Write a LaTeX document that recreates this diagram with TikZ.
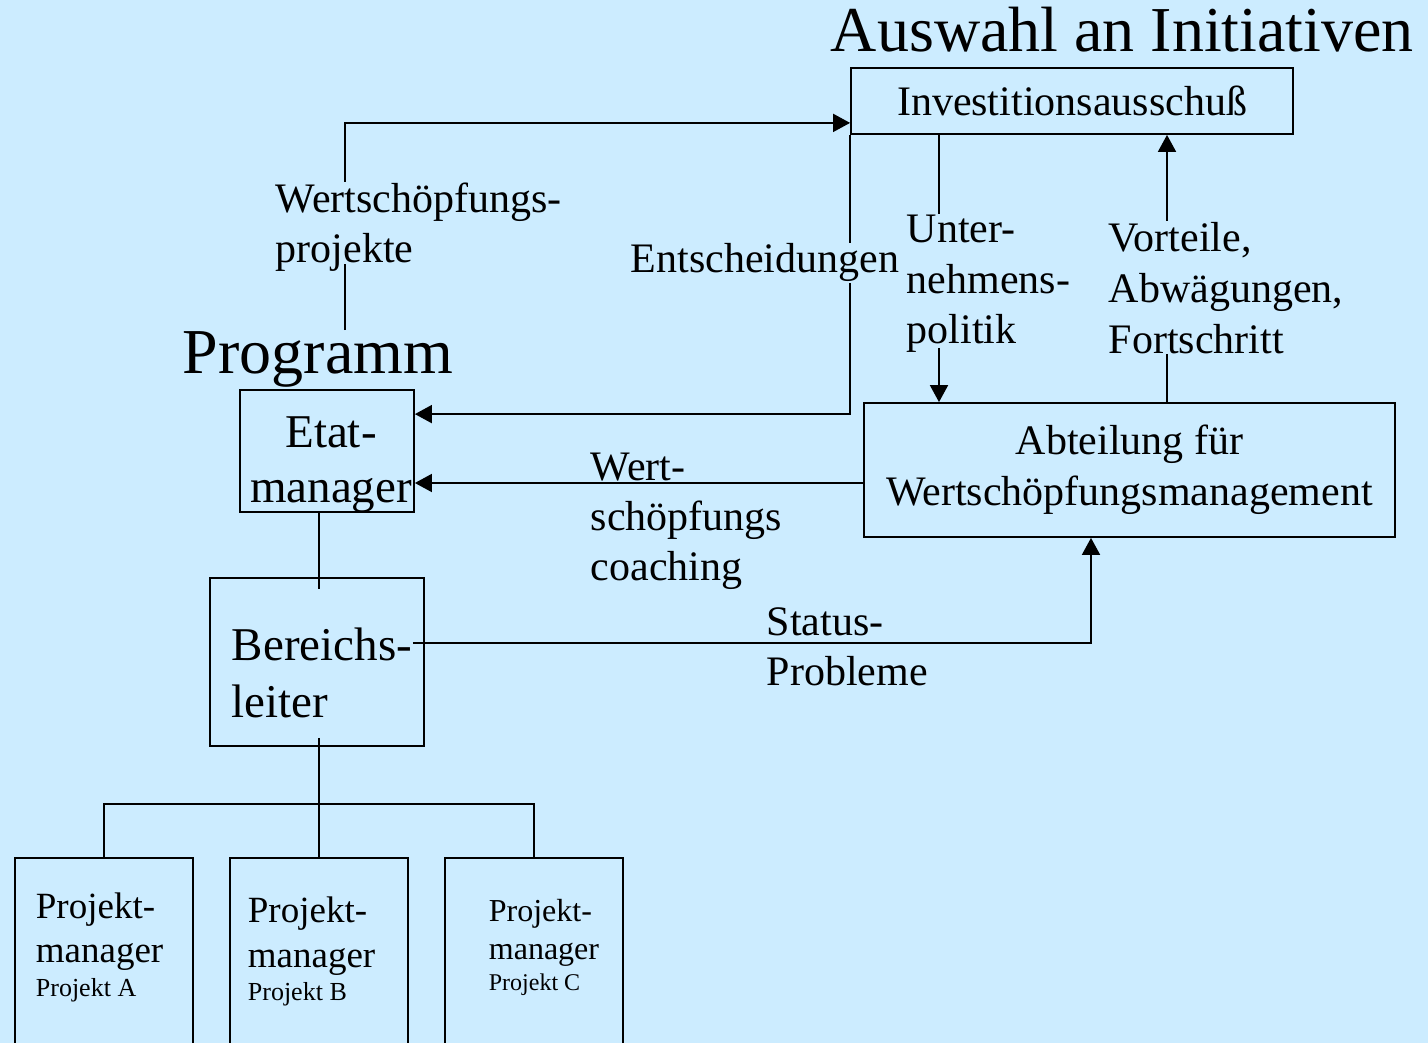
\documentclass[tikz,border=0pt]{standalone}
\usepackage{fontspec}
\setmainfont{Liberation Serif}
\usetikzlibrary{arrows.meta,positioning}
\definecolor{slidebg}{HTML}{CCECFF}
\newcommand{\fs}[2]{\fontsize{#1}{#2}\selectfont}

\begin{document}
\begin{tikzpicture}[x=1pt,y=-1pt,->,>={Triangle[length=17pt,width=18pt]},
                    line width=1.8pt,node distance=215pt]
\tikzset{box/.style={draw=black,inner sep=0pt,align=center},
         lbl/.style={inner sep=0pt,align=left,anchor=base west},
         big/.style={font=\fs{64}{77}},
         mid/.style={font=\fs{42}{51}}}

\fill[slidebg,-] (0,0) rectangle (1428,1043);
\useasboundingbox (0,0) rectangle (1428,1043);

        % titles
        \node[lbl,big]  (title) at (830,52)   {Auswahl an Initiativen};
        \node[lbl,big]  (prog)  at (182,373)  {Programm};

        % boxes
        \node[box,mid,minimum width=442pt,minimum height=66pt]   (inv)  at (1072,101)  {Investitionsausschuß};
        \node[box,minimum width=174pt,minimum height=122pt]  (etat) at (327,451)   {};
        \node[box,mid,minimum width=531pt,minimum height=134pt]  (abt)  at (1129.5,470) {Abteilung für\\Wertschöpfungsmanagement};
        \node[box,minimum width=214pt,minimum height=168pt] (bl) at (317,662) {};

        \node[lbl,align=center,anchor=base,font=\fs{47}{55}] (etatt) at (331,502) {Etat-\\manager};
        \node[lbl,font=\fs{47}{57}]  (blt) at (231,717) {Bereichs-\\leiter};

        \node[box,minimum width=178pt,minimum height=200pt]  (pa)  at (104,958)  {};
        \node[box,minimum width=178pt,minimum height=200pt]  (pb)  [right of=pa] {};
        \node[box,minimum width=178pt,minimum height=200pt]  (pc)  [right of=pb] {};

        \node[lbl,font=\fs{37}{44}]  (ta)  at (35,962)   {Projekt-\\manager};
        \node[lbl,font=\fs{26}{31}]  (tap) at (35,996)   {Projekt A};
        \node[lbl,font=\fs{37}{45}]  (tb)  at (247,967)  {Projekt-\\manager};
        \node[lbl,font=\fs{26}{31}]  (tbp) at (247,1000) {Projekt B};
        \node[lbl,font=\fs{32}{38}]  (tc)  at (488,959)  {Projekt-\\manager};
        \node[lbl,font=\fs{24}{29}]  (tcp) at (488,990)  {Projekt C};

        % connector labels
        \node[lbl,mid]  (wsp)  at (275,263)  {Wertschöpfungs-\\projekte};
        \node[lbl,mid]  (ent)  at (630,273)  {Entscheidungen};
        \node[lbl,mid]  (unt)  at (906,344)  {Unter-\\nehmens-\\politik};
        \node[lbl,mid]  (vort) at (1108,353) {Vorteile,\\Abwägungen,\\Fortschritt};
        \node[lbl,font=\fs{42}{50}]  (wc)   at (590,580)  {Wert-\\schöpfungs\\coaching};
        \node[lbl,font=\fs{42}{50}]  (stat) at (766,685)  {Status-\\Probleme};

        \coordinate (wx) at (345,0);
        \coordinate (ux) at (939,0);
        \coordinate (vx) at (1167,0);
        \coordinate (sx) at (1091,0);
        \coordinate (bx) at (319,0);
        \coordinate (jn) at (319,804);
        \coordinate (cy) at ([yshift=-13pt]abt.west);
        \coordinate (sy) at ([yshift=19pt]bl.east);

        \path[-]
        (prog.north -| wx) edge ([yshift=9pt]wsp.south -| wx)
        (inv.south west)   edge (ent.north -| inv.south west)
        (inv.south -| ux)  edge (unt.north -| ux)
        (abt.north -| vx)  edge (vort.south -| vx)
        (etat.south -| bx) edge ([yshift=-12pt]bl.north -| bx)
        ([yshift=9pt]bl.south -| bx) edge (pb.north -| bx)
        ; %end path

        \draw (wsp.north -| wx) |- ([yshift=12pt]inv.south west);
        \draw (ent.south -| inv.south west) |- ([yshift=-25pt]etat.north east);
        \draw ([yshift=6pt]unt.south -| ux) -- (abt.north -| ux);
        \draw (vort.north -| vx) -- (inv.south -| vx);
        \draw (cy) -- (cy -| etat.east);
        \draw (sy -| blt.east) -| (abt.south -| sx);
        \draw[-] (pa.north) |- (jn) -| (pc.north);

\end{tikzpicture}
\end{document}
